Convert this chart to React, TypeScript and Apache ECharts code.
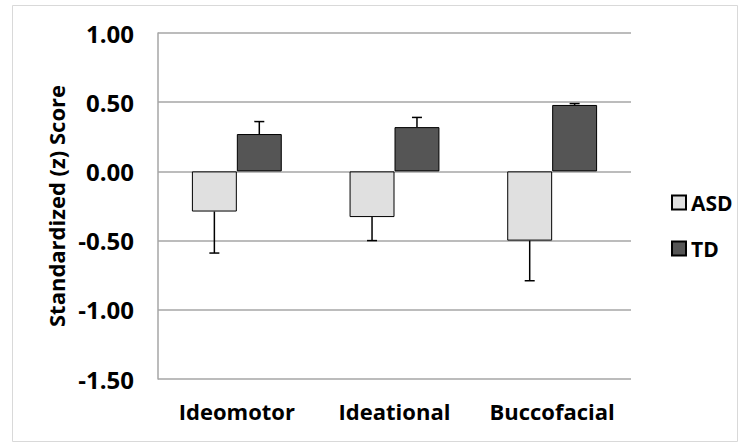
import React, { useEffect, useRef } from "react";
import * as echarts from "echarts";

const categories = ["Ideomotor", "Ideational", "Buccofacial"];
const seriesNames = ["ASD", "TD"];
const asdValues = [-0.29, -0.33, -0.5];
const tdValues = [0.27, 0.32, 0.48];
const asdErrors = [0.3, 0.17, 0.29];
const tdErrors = [0.09, 0.07, 0.01];
const yTicks = { min: -1.5, max: 1.0, interval: 0.5 };

const FONT = "'Open Sans', 'Liberation Sans', sans-serif";
const CATEGORY_GAP = 0.43;

function errorSeries(name: string, values: number[], errors: number[], side: number) {
  return {
    type: "custom",
    name: name + " error",
    z: 5,
    silent: true,
    encode: { x: 0, y: 1 },
    data: values.map((v, i) => [i, v, errors[i]]),
    renderItem: (params: any, api: any) => {
      const i = api.value(0);
      const v = api.value(1);
      const e = api.value(2);
      const sign = v >= 0 ? 1 : -1;
      const p0 = api.coord([i, v]);
      const p1 = api.coord([i, v + sign * e]);
      const band = api.size([1, 0])[0];
      const w = (band * (1 - CATEGORY_GAP)) / 2;
      const x = p0[0] + (side * w) / 2;
      const style = { stroke: "#000", lineWidth: 1.5 };
      return {
        type: "group",
        children: [
          { type: "line", shape: { x1: x, y1: p0[1], x2: x, y2: p1[1] }, style },
          { type: "line", shape: { x1: x - 5, y1: p1[1], x2: x + 5, y2: p1[1] }, style },
        ],
      };
    },
  };
}

export default function App() {
  const ref = useRef<HTMLDivElement>(null);
  useEffect(() => {
    if (!ref.current) return;
    const chart = echarts.init(ref.current, undefined, { renderer: "svg" });
    chart.setOption({
      animation: false,
      backgroundColor: "#fff",
      graphic: [
        {
          type: "rect",
          shape: { x: 12.5, y: 5.5, width: 725, height: 436 },
          style: { fill: "none", stroke: "#d9d9d9", lineWidth: 1 },
          z: -1,
        },
      ],
      grid: { left: 158, right: 115, top: 33, bottom: 64 },
      legend: {
        data: seriesNames,
        orient: "vertical",
        left: 666,
        top: 187,
        itemWidth: 14,
        itemHeight: 14,
        itemGap: 25,
        icon: "rect",
        textStyle: { fontFamily: FONT, fontWeight: "bold", fontSize: 21, color: "#000" },
      },
      xAxis: {
        type: "category",
        data: categories,
        axisLine: { show: false, onZero: false },
        axisTick: { show: false },
        axisLabel: {
          interval: 0,
          fontFamily: FONT,
          fontWeight: "bold",
          fontSize: 22,
          color: "#000",
          margin: 21,
        },
      },
      yAxis: {
        type: "value",
        min: yTicks.min,
        max: yTicks.max,
        interval: yTicks.interval,
        name: "Standardized (z) Score",
        nameLocation: "middle",
        nameGap: 91,
        nameTextStyle: { fontFamily: FONT, fontWeight: "bold", fontSize: 22, color: "#000" },
        axisLine: { show: true, lineStyle: { color: "#a6a6a6", width: 1.5 } },
        axisTick: { show: false },
        splitLine: { lineStyle: { color: "#a6a6a6", width: 1.5 } },
        axisLabel: {
          fontFamily: FONT,
          fontWeight: "bold",
          fontSize: 24,
          color: "#000",
          margin: 24,
          formatter: (v: number) => v.toFixed(2),
        },
      },
      series: [
        {
          type: "bar",
          name: "ASD",
          data: asdValues,
          barGap: "0%",
          barCategoryGap: CATEGORY_GAP * 100 + "%",
          itemStyle: { color: "#e0e0e0", borderColor: "#000", borderWidth: 1 },
        },
        {
          type: "bar",
          name: "TD",
          data: tdValues,
          barGap: "0%",
          barCategoryGap: CATEGORY_GAP * 100 + "%",
          itemStyle: { color: "#555555", borderColor: "#000", borderWidth: 1 },
        },
        errorSeries("ASD", asdValues, asdErrors, -1),
        errorSeries("TD", tdValues, tdErrors, 1),
      ],
    });
    return () => chart.dispose();
  }, []);
  return (
    <div
      ref={ref}
      style={{ position: "fixed", left: 0, top: 0, width: 746, height: 443 }}
    />
  );
}
